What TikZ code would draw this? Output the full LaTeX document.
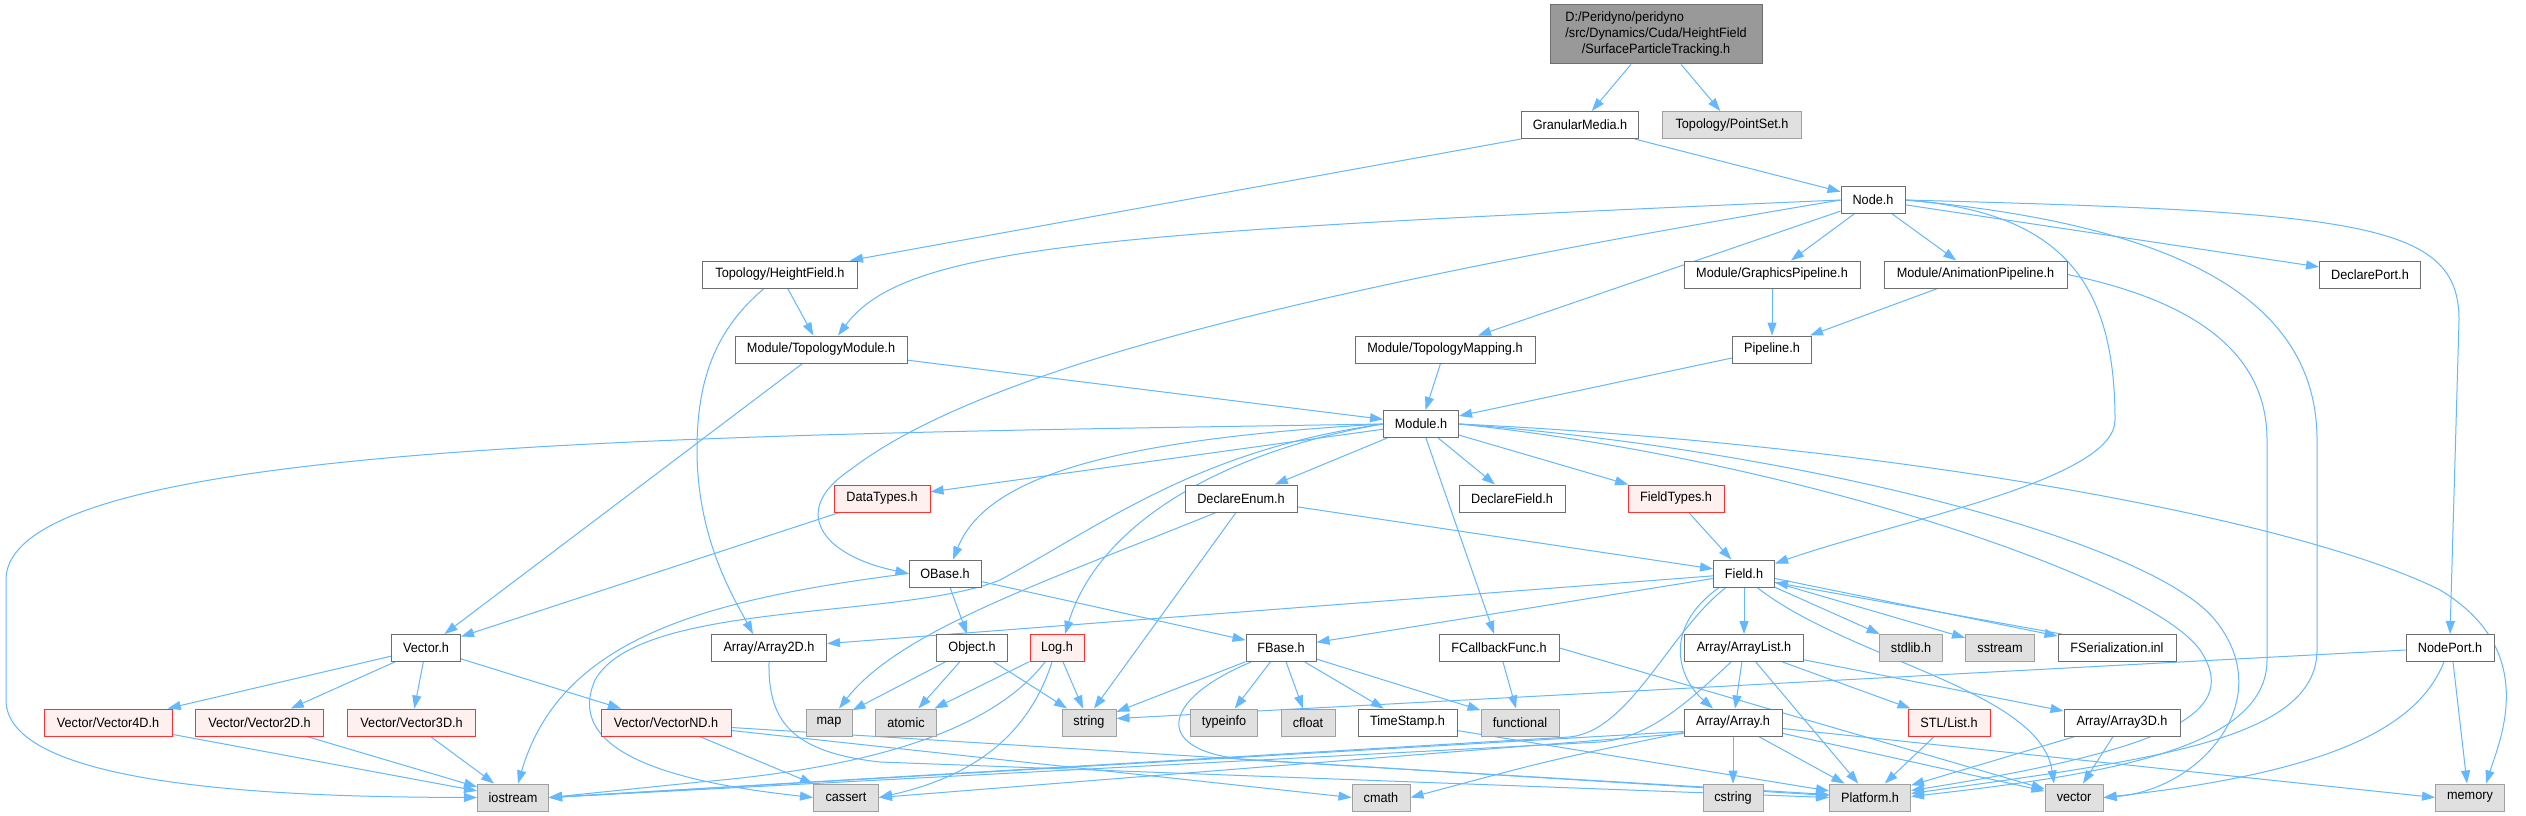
\documentclass[tikz,border=0pt]{standalone}
\usepackage{fontspec}
\setmainfont[FakeStretch=0.94]{Liberation Sans}
\usetikzlibrary{arrows.meta}
\definecolor{edgec}{RGB}{99,184,255}
\definecolor{bord}{RGB}{110,110,110}
\definecolor{sysbord}{RGB}{160,160,160}
\definecolor{sysfill}{RGB}{224,224,224}
\definecolor{redfill}{RGB}{255,240,240}
\definecolor{redbord}{RGB}{255,50,50}
\definecolor{rootfill}{RGB}{153,153,153}
\pgfdeclarelayer{bglayer}
\pgfdeclarelayer{edgelayer}
\pgfsetlayers{bglayer,edgelayer,main}
\begin{document}
\begin{tikzpicture}[x=1pt,y=-1pt,
  nbox/.style={rectangle, draw=bord, fill=white, line width=1pt, inner sep=0pt, minimum height=27pt, font=\fontsize{13.5}{16}\selectfont},
  sysbox/.style={nbox, draw=sysbord, fill=sysfill},
  redbox/.style={nbox, draw=redbord, fill=redfill},
  edg/.style={draw=edgec, line width=1pt, -{Triangle[length=13pt,width=9pt]}}]
\useasboundingbox (0,0) rectangle (2526,816);
\begin{pgfonlayer}{bglayer}
\fill[white] (0,0) rectangle (2526,816);
\end{pgfonlayer}
% nodes
\node[nbox, fill=rootfill, minimum width=212pt, minimum height=59pt] (root) at (1656,34.5)
  {\begin{tabular}{@{}c@{}}\multicolumn{1}{@{}l@{}}{D:/Peridyno/peridyno}\\/src/Dynamics/Cuda/HeightField\\/SurfaceParticleTracking.h\end{tabular}};
\node[nbox, minimum width=117pt] (gm) at (1580,125) {GranularMedia.h};
\node[sysbox, minimum width=139pt] (ps) at (1732,125) {Topology/PointSet.h};
\node[nbox, minimum width=64pt] (node) at (1873,200) {Node.h};
\node[nbox, minimum width=176pt] (gp) at (1772,274.5) {Module/GraphicsPipeline.h};
\node[nbox, minimum width=183pt] (ap) at (1975.5,274.5) {Module/AnimationPipeline.h};
\node[nbox, minimum width=101pt] (dp) at (2370,274.5) {DeclarePort.h};
\node[nbox, minimum width=155pt] (hf) at (780,274.5) {Topology/HeightField.h};
\node[nbox, minimum width=172pt] (tm) at (821,349.5) {Module/TopologyModule.h};
\node[nbox, minimum width=180pt] (tmap) at (1445,349.5) {Module/TopologyMapping.h};
\node[nbox, minimum width=79pt] (pl) at (1772,349.5) {Pipeline.h};
\node[nbox, minimum width=75pt] (mod) at (1421,424) {Module.h};
\node[redbox, minimum width=96pt] (dt) at (882,498.5) {DataTypes.h};
\node[nbox, minimum width=112pt] (de) at (1241,498.5) {DeclareEnum.h};
\node[nbox, minimum width=106pt] (df) at (1512,498.5) {DeclareField.h};
\node[redbox, minimum width=96pt] (ft) at (1676,498.5) {FieldTypes.h};
\node[nbox, minimum width=72pt] (ob) at (945,573.5) {OBase.h};
\node[nbox, minimum width=61pt] (fld) at (1744,573.5) {Field.h};
\node[nbox, minimum width=69pt] (vec) at (426,648) {Vector.h};
\node[nbox, minimum width=115pt] (a2) at (769,648) {Array/Array2D.h};
\node[nbox, minimum width=71pt] (obj) at (972,648) {Object.h};
\node[redbox, minimum width=54pt] (log) at (1057,648) {Log.h};
\node[nbox, minimum width=70pt] (fb) at (1281,648) {FBase.h};
\node[nbox, minimum width=120pt] (fcb) at (1499,648) {FCallbackFunc.h};
\node[nbox, minimum width=119pt] (al) at (1744,648) {Array/ArrayList.h};
\node[sysbox, minimum width=63pt] (stdlib) at (1911,648) {stdlib.h};
\node[sysbox, minimum width=69pt] (sst) at (2000,648) {sstream};
\node[nbox, minimum width=118pt] (fser) at (2117,648) {FSerialization.inl};
\node[nbox, minimum width=88pt] (np) at (2450,648) {NodePort.h};
\node[redbox, minimum width=128pt] (v4) at (108,722.5) {Vector/Vector4D.h};
\node[redbox, minimum width=128pt] (v2) at (259.5,722.5) {Vector/Vector2D.h};
\node[redbox, minimum width=128pt] (v3) at (411.6,722.5) {Vector/Vector3D.h};
\node[redbox, minimum width=130pt] (vnd) at (666,722.5) {Vector/VectorND.h};
\node[sysbox, minimum width=46pt] (map) at (829,722.5) {map};
\node[sysbox, minimum width=61pt] (atomic) at (906,722.5) {atomic};
\node[sysbox, minimum width=54pt] (string) at (1089,722.5) {string};
\node[sysbox, minimum width=67pt] (typeinfo) at (1224,722.5) {typeinfo};
\node[sysbox, minimum width=54pt] (cfloat) at (1308,722.5) {cfloat};
\node[nbox, minimum width=99pt] (ts) at (1407.5,722.5) {TimeStamp.h};
\node[sysbox, minimum width=78pt] (func) at (1520,722.5) {functional};
\node[nbox, minimum width=98pt] (arr) at (1733,722.5) {Array/Array.h};
\node[redbox, minimum width=82pt] (list) at (1949,722.5) {STL/List.h};
\node[nbox, minimum width=116pt] (a3) at (2122,722.5) {Array/Array3D.h};
\node[sysbox, minimum width=71pt] (ios) at (513,797.5) {iostream};
\node[sysbox, minimum width=65pt] (cas) at (846,797.5) {cassert};
\node[sysbox, minimum width=58pt] (cmath) at (1381,797.5) {cmath};
\node[sysbox, minimum width=60pt] (cstr) at (1733,797.5) {cstring};
\node[sysbox, minimum width=81pt] (plat) at (1870,797.5) {Platform.h};
\node[sysbox, minimum width=58pt] (vct) at (2074,797.5) {vector};
\node[sysbox, minimum width=69pt] (mem) at (2470,797.5) {memory};
% edges
\begin{pgfonlayer}{edgelayer}
\draw[edg] (root) -- (gm);
\draw[edg] (root) -- (ps);
\draw[edg] (gm.south west) -- ([xshift=-8pt]hf.north east);
\draw[edg] (gm) -- (node);
\draw[edg] (node.west) .. controls (1100,232) and (905,245) .. ([xshift=17pt]tm.north);
\draw[edg] (node.west) .. controls (1300,290) and (980,370) .. (850,470) .. controls (790,510) and (820,555) .. (ob.west);
\draw[edg] (node) -- ([xshift=33pt]tmap.north);
\draw[edg] (node) -- (gp);
\draw[edg] (node) -- (ap);
\draw[edg] (node) -- (dp);
\draw[edg] (node.east) .. controls (2060,212) and (2115,280) .. (2115,420) .. controls (2115,480) and (1900,520) .. ([yshift=10pt]fld.east);
\draw[edg] (node.east) .. controls (2180,225) and (2317,300) .. (2317,440) -- (2317,650) .. controls (2317,740) and (2150,760) .. ([yshift=4pt]plat.east);
\draw[edg] (node.east) .. controls (2360,212) and (2459,222) .. (2459,320) -- (np.north);
\draw[edg] (ap) -- (pl);
\draw[edg] (ap.east) .. controls (2190,300) and (2267,350) .. (2267,440) -- (2267,660) .. controls (2267,750) and (2100,775) .. ([yshift=1pt]plat.east);
\draw[edg] (gp) -- (pl);
\draw[edg] (pl) -- (mod);
\draw[edg] (tmap) -- (mod);
\draw[edg] (tm) -- (mod);
\draw[edg] (tm) -- (vec);
\draw[edg] (hf) -- (tm);
\draw[edg] ([xshift=-16pt]hf.south) .. controls (715,330) and (697,380) .. (697,450) .. controls (697,540) and (735,600) .. ([xshift=-16pt]a2.north);
% Module.h
\draw[edg] (mod) -- (dt);
\draw[edg] (mod.west) .. controls (1100,440) and (985,480) .. ([xshift=8pt]ob.north);
\draw[edg] (mod.west) .. controls (1230,450) and (1100,520) .. ([xshift=8pt]log.north);
\draw[edg] (mod.west) .. controls (700,435) and (6,440) .. (6,580) -- (6,700) .. controls (6,790) and (300,797) .. (ios.west);
\draw[edg] (mod.west) .. controls (1200,450) and (1110,520) .. (1000,580) .. controls (900,620) and (640,600) .. (595,680) .. controls (560,760) and (700,785) .. (cas.west);
\draw[edg] (mod) -- (de);
\draw[edg] (mod) -- (df);
\draw[edg] (mod) -- (ft);
\draw[edg] (mod) -- (fcb);
\draw[edg] (mod.east) .. controls (1900,445) and (2300,520) .. (2440,590) .. controls (2540,650) and (2500,740) .. ([xshift=16pt]mem.north);
\draw[edg] (mod.east) .. controls (1800,450) and (2150,540) .. (2215,620) .. controls (2280,700) and (2200,790) .. (vct.east);
\draw[edg] (mod.east) .. controls (1800,460) and (2150,580) .. (2200,650) .. controls (2240,710) and (2180,748) .. ([yshift=7pt]plat.east);
% Field.h
\draw[edg] (ft) -- (fld);
\draw[edg] (de) -- (fld);
\draw[edg] (fld) -- (a2);
\draw[edg] (fld) -- (fb);
\draw[edg] ([xshift=-25pt]fld.south) .. controls (1660,630) and (1680,680) .. ([xshift=-20pt]arr.north);
\draw[edg] ([xshift=-18pt]fld.south) .. controls (1670,630) and (1630,732) .. (1569,737) -- (ios.east);
\draw[edg] (fld) -- (al);
\draw[edg] (fld) -- (stdlib);
\draw[edg] (fld) -- (sst);
\draw[edg] ([yshift=-5pt]fld.east) -- ([yshift=-2pt]fser.north west);
\draw[edg] ([xshift=4pt]fser.north west) -- ([yshift=-9pt]fld.east);
\draw[edg] ([xshift=13pt]fld.south) .. controls (1850,660) and (2040,690) .. ([xshift=-20pt]vct.north);
% ArrayList
\draw[edg] (al) -- (arr);
\draw[edg] (al) -- (plat);
\draw[edg] (al) -- (list);
\draw[edg] (al) -- (a3);
\draw[edg] ([xshift=-13pt]al.south) .. controls (1690,700) and (1650,738) .. (1600,742) -- (ios.east);
% Array
\draw[edg] (arr) -- (cstr);
\draw[edg] (arr) -- (plat);
\draw[edg] (arr) -- (vct);
\draw[edg] ([yshift=-6pt]arr.east) -- (mem.west);
\draw[edg] ([yshift=-10pt]arr.west) .. controls (1550,760) .. (cmath.east);
\draw[edg] ([yshift=-9pt]arr.west) -- (ios.east);
\draw[edg] ([yshift=-11pt]arr.west) -- (cas.east);
\draw[edg] (a3) -- (plat);
\draw[edg] (a3) -- (vct);
\draw[edg] (list) -- (plat);
% FBase
\draw[edg] (fb) -- (string);
\draw[edg] (fb) -- (typeinfo);
\draw[edg] (fb) -- (cfloat);
\draw[edg] (fb) -- (ts);
\draw[edg] (fb) -- (func);
\draw[edg] ([xshift=-30pt]fb.south) .. controls (1160,700) and (1150,752) .. (1250,760) -- ([yshift=3pt]plat.west);
\draw[edg] (ts) -- (plat);
\draw[edg] (fcb) -- (func);
\draw[edg] (fcb.east) -- (vct);
% OBase, Object, Log
\draw[edg] (ob) -- (obj);
\draw[edg] (ob) -- (fb);
\draw[edg] (ob.west) .. controls (700,600) and (560,640) .. ([xshift=5pt]ios.north);
\draw[edg] (obj) -- (map);
\draw[edg] (obj) -- (atomic);
\draw[edg] (obj) -- (string);
\draw[edg] (log) -- (atomic);
\draw[edg] (log) -- (string);
\draw[edg] ([xshift=-12pt]log.south) .. controls (1000,720) and (900,765) .. (700,782) -- (ios.east);
\draw[edg] ([xshift=-5pt]log.south) .. controls (1030,730) and (980,775) .. (cas.east);
% DeclareEnum, DataTypes
\draw[edg] ([xshift=-25pt]de.south) .. controls (1050,580) and (900,630) .. ([xshift=10pt]map.north);
\draw[edg] ([xshift=-5pt]de.south) -- ([xshift=5pt]string.north);
\draw[edg] (dt) -- (vec);
% Vector
\draw[edg] (vec) -- (v4);
\draw[edg] (vec) -- (v2);
\draw[edg] (vec) -- (v3);
\draw[edg] (vec) -- (vnd);
\draw[edg] (v4) -- (ios);
\draw[edg] (v2) -- (ios);
\draw[edg] (v3) -- (ios);
\draw[edg] (vnd) -- (cas);
\draw[edg] ([yshift=-8pt]vnd.east) -- (cmath.west);
\draw[edg] ([yshift=-5pt]vnd.east) -- ([yshift=2pt]plat.west);
\draw[edg] (a2.south) .. controls (768,720) and (790,752) .. (880,762) -- (plat.west);
% NodePort
\draw[edg] ([yshift=-2pt]np.west) -- ([yshift=4pt]string.east);
\draw[edg] ([xshift=-6pt]np.south) .. controls (2420,720) and (2350,770) .. (vct.east);
\draw[edg] ([xshift=3pt]np.south) -- ([xshift=-3pt]mem.north);
\end{pgfonlayer}
\end{tikzpicture}
\end{document}
